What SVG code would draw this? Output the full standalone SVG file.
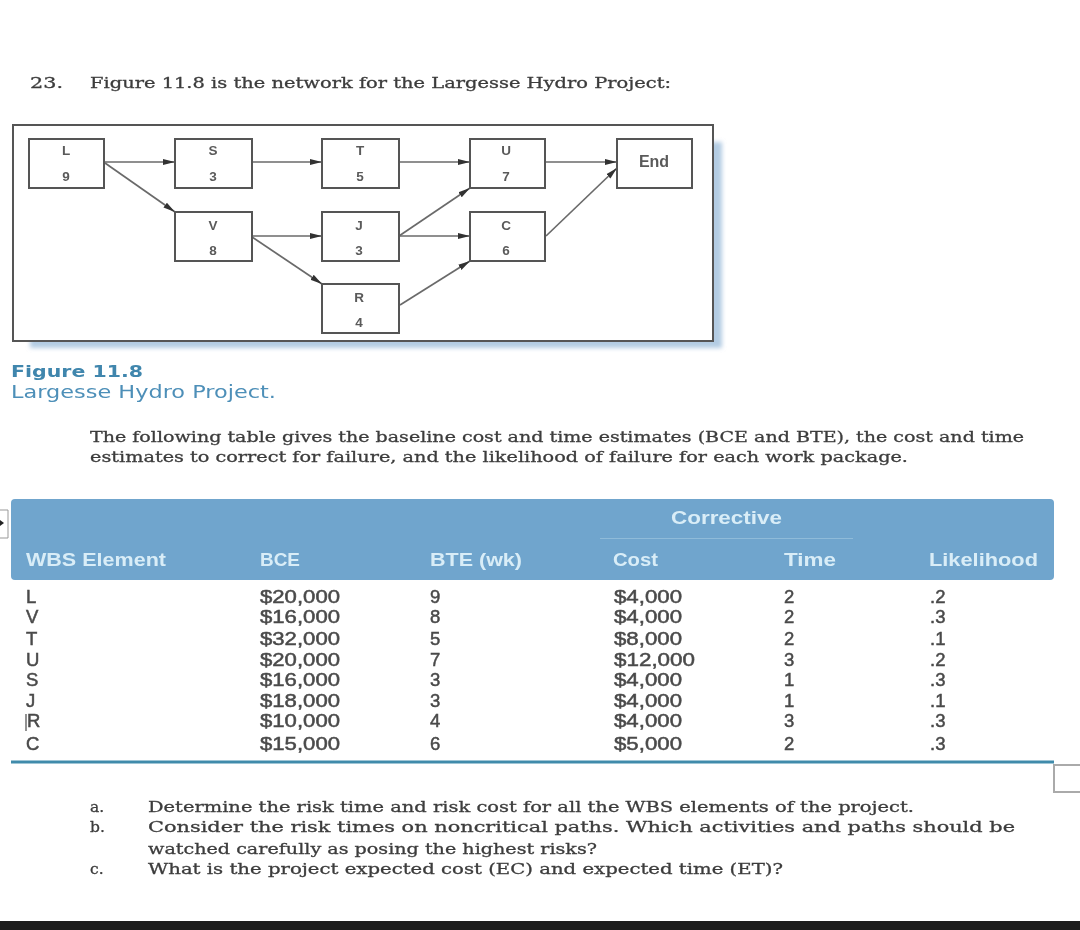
<svg xmlns="http://www.w3.org/2000/svg" width="1080" height="930" viewBox="0 0 1080 930">
<style>
.serif{font-family:"DejaVu Serif","Liberation Serif",serif;font-size:15.5px;fill:#3c3c3c;stroke:#3c3c3c;stroke-width:.3}
.box{fill:#fff;stroke:#555;stroke-width:2}
.nt{font-family:"Liberation Sans",Arial,sans-serif;font-size:13.5px;font-weight:bold;fill:#5a5a5a;text-anchor:middle}
.cn{stroke:#6a6a6a;stroke-width:1.7;fill:none;marker-end:url(#arr)}
.hd{font-family:"Liberation Sans",Arial,sans-serif;font-size:18px;font-weight:bold;fill:#d9edf7}
.td{font-family:"Liberation Sans",Arial,sans-serif;font-size:18.5px;fill:#4a4a4a;stroke:#4a4a4a;stroke-width:.5}
</style>
<defs>
<marker id="arr" markerUnits="userSpaceOnUse" markerWidth="14" markerHeight="8" refX="12" refY="4" orient="auto"><path d="M0 1L12 4L0 7Z" fill="#333"/></marker>
<filter id="blur" x="-5%" y="-5%" width="110%" height="110%"><feGaussianBlur stdDeviation="2"/></filter>
<filter id="soft" filterUnits="userSpaceOnUse" x="0" y="0" width="1080" height="930"><feGaussianBlur stdDeviation="0.55"/></filter>
</defs>
<rect width="1080" height="930" fill="#fff"/>
<g filter="url(#soft)">
<text class="serif" x="30" y="88" textLength="33" lengthAdjust="spacingAndGlyphs">23.</text>
<text class="serif" x="90" y="88" textLength="581" lengthAdjust="spacingAndGlyphs">Figure 11.8 is the network for the Largesse Hydro Project:</text>

<g id="frame">
<rect x="30" y="142" width="692" height="206" fill="#b3cce3" filter="url(#blur)"/>
<rect x="13" y="125" width="700" height="216" fill="#fff" stroke="#555" stroke-width="2"/>
</g>
<g id="connectors">
<path class="cn" d="M105 162H175"/>
<path class="cn" d="M105 163L175 212"/>
<path class="cn" d="M252 162H322"/>
<path class="cn" d="M252 236H322"/>
<path class="cn" d="M252 237L322 284"/>
<path class="cn" d="M399 162H470"/>
<path class="cn" d="M399 236L470 188"/>
<path class="cn" d="M399 236H470"/>
<path class="cn" d="M400 305L470 261"/>
<path class="cn" d="M545 162H617"/>
<path class="cn" d="M546 236L617 168"/>
</g>
<g id="node-L"><rect class="box" x="29" y="139" width="75" height="49"/><text class="nt" x="66" y="155">L</text><text class="nt" x="66" y="181">9</text></g>
<g id="node-S"><rect class="box" x="175" y="139" width="77" height="49"/><text class="nt" x="213" y="155">S</text><text class="nt" x="213" y="181">3</text></g>
<g id="node-T"><rect class="box" x="322" y="139" width="77" height="49"/><text class="nt" x="360" y="155">T</text><text class="nt" x="360" y="181">5</text></g>
<g id="node-U"><rect class="box" x="470" y="139" width="75" height="49"/><text class="nt" x="506" y="155">U</text><text class="nt" x="506" y="181">7</text></g>
<g id="node-End"><rect class="box" x="617" y="139" width="75" height="49"/><text class="nt" x="654" y="167" style="font-size:16px">End</text></g>
<g id="node-V"><rect class="box" x="175" y="212" width="77" height="49"/><text class="nt" x="213" y="230">V</text><text class="nt" x="213" y="255">8</text></g>
<g id="node-J"><rect class="box" x="322" y="212" width="77" height="49"/><text class="nt" x="359" y="230">J</text><text class="nt" x="359" y="255">3</text></g>
<g id="node-C"><rect class="box" x="470" y="212" width="75" height="49"/><text class="nt" x="506" y="230">C</text><text class="nt" x="506" y="255">6</text></g>
<g id="node-R"><rect class="box" x="322" y="284" width="77" height="49"/><text class="nt" x="359" y="302">R</text><text class="nt" x="359" y="327">4</text></g>

<text x="11" y="377" textLength="132" lengthAdjust="spacingAndGlyphs" style="font-family:'DejaVu Sans',sans-serif;font-size:15px;font-weight:bold;fill:#3f86ad">Figure 11.8</text>
<text x="11" y="398" textLength="265" lengthAdjust="spacingAndGlyphs" style="font-family:'DejaVu Sans',sans-serif;font-size:18.5px;fill:#4d8fb8">Largesse Hydro Project.</text>

<text class="serif" x="90" y="442" textLength="934" lengthAdjust="spacingAndGlyphs">The following table gives the baseline cost and time estimates (BCE and BTE), the cost and time</text>
<text class="serif" x="90" y="462" textLength="818" lengthAdjust="spacingAndGlyphs">estimates to correct for failure, and the likelihood of failure for each work package.</text>

<path d="M0 510H8V538H0" fill="#fff" stroke="#999" stroke-width="1"/>
<path d="M0 520L4 523L0 526Z" fill="#222"/>
<rect x="11" y="499" width="1043" height="81" rx="4" fill="#6fa5cd"/>
<line x1="600" y1="538.500" x2="853" y2="538.500" stroke="#8fbbd9" stroke-width="1"/>
<text class="hd" x="671" y="524" textLength="111" lengthAdjust="spacingAndGlyphs">Corrective</text>
<g class="hd">
<text x="26" y="566" textLength="140" lengthAdjust="spacingAndGlyphs">WBS Element</text>
<text x="260" y="566" textLength="40" lengthAdjust="spacingAndGlyphs">BCE</text>
<text x="430" y="566" textLength="92" lengthAdjust="spacingAndGlyphs">BTE (wk)</text>
<text x="613" y="566" textLength="45" lengthAdjust="spacingAndGlyphs">Cost</text>
<text x="784" y="566" textLength="52" lengthAdjust="spacingAndGlyphs">Time</text>
<text x="929" y="566" textLength="109" lengthAdjust="spacingAndGlyphs">Likelihood</text>
</g>
<g class="td">
<text x="26" y="603">L</text><text x="26" y="623">V</text><text x="26" y="645">T</text><text x="26" y="666">U</text><text x="26" y="686">S</text><text x="26" y="707">J</text><text x="27" y="727">R</text><text x="26" y="750">C</text>
<path d="M26 714V731" fill="none" stroke-width="1.200"/>
<g>
<text x="260" y="603" textLength="80" lengthAdjust="spacingAndGlyphs">$20,000</text><text x="260" y="623" textLength="80" lengthAdjust="spacingAndGlyphs">$16,000</text><text x="260" y="645" textLength="80" lengthAdjust="spacingAndGlyphs">$32,000</text><text x="260" y="666" textLength="80" lengthAdjust="spacingAndGlyphs">$20,000</text><text x="260" y="686" textLength="80" lengthAdjust="spacingAndGlyphs">$16,000</text><text x="260" y="707" textLength="80" lengthAdjust="spacingAndGlyphs">$18,000</text><text x="260" y="727" textLength="80" lengthAdjust="spacingAndGlyphs">$10,000</text><text x="260" y="750" textLength="80" lengthAdjust="spacingAndGlyphs">$15,000</text>
</g>
<text x="430" y="603">9</text><text x="430" y="623">8</text><text x="430" y="645">5</text><text x="430" y="666">7</text><text x="430" y="686">3</text><text x="430" y="707">3</text><text x="430" y="727">4</text><text x="430" y="750">6</text>
<g>
<text x="614" y="603" textLength="68" lengthAdjust="spacingAndGlyphs">$4,000</text><text x="614" y="623" textLength="68" lengthAdjust="spacingAndGlyphs">$4,000</text><text x="614" y="645" textLength="68" lengthAdjust="spacingAndGlyphs">$8,000</text><text x="614" y="666" textLength="81" lengthAdjust="spacingAndGlyphs">$12,000</text><text x="614" y="686" textLength="68" lengthAdjust="spacingAndGlyphs">$4,000</text><text x="614" y="707" textLength="68" lengthAdjust="spacingAndGlyphs">$4,000</text><text x="614" y="727" textLength="68" lengthAdjust="spacingAndGlyphs">$4,000</text><text x="614" y="750" textLength="68" lengthAdjust="spacingAndGlyphs">$5,000</text>
</g>
<text x="784" y="603">2</text><text x="784" y="623">2</text><text x="784" y="645">2</text><text x="784" y="666">3</text><text x="784" y="686">1</text><text x="784" y="707">1</text><text x="784" y="727">3</text><text x="784" y="750">2</text>
<text x="930" y="603">.2</text><text x="930" y="623">.3</text><text x="930" y="645">.1</text><text x="930" y="666">.2</text><text x="930" y="686">.3</text><text x="930" y="707">.1</text><text x="930" y="727">.3</text><text x="930" y="750">.3</text>
</g>
<line x1="11" y1="762" x2="1054" y2="762" stroke="#3f8bab" stroke-width="3"/>
<rect x="1054" y="765" width="30" height="27" fill="#fff" stroke="#aaa" stroke-width="2"/>

<text class="serif" x="90" y="812">a.</text>
<text class="serif" x="148" y="812" textLength="766" lengthAdjust="spacingAndGlyphs">Determine the risk time and risk cost for all the WBS elements of the project.</text>
<text class="serif" x="90" y="832">b.</text>
<text class="serif" x="148" y="832" textLength="867" lengthAdjust="spacingAndGlyphs">Consider the risk times on noncritical paths. Which activities and paths should be</text>
<text class="serif" x="148" y="854" textLength="449" lengthAdjust="spacingAndGlyphs">watched carefully as posing the highest risks?</text>
<text class="serif" x="90" y="874">c.</text>
<text class="serif" x="148" y="874" textLength="635" lengthAdjust="spacingAndGlyphs">What is the project expected cost (EC) and expected time (ET)?</text>
</g>
<rect x="0" y="921" width="1080" height="9" fill="#1c1c1c"/>
</svg>
